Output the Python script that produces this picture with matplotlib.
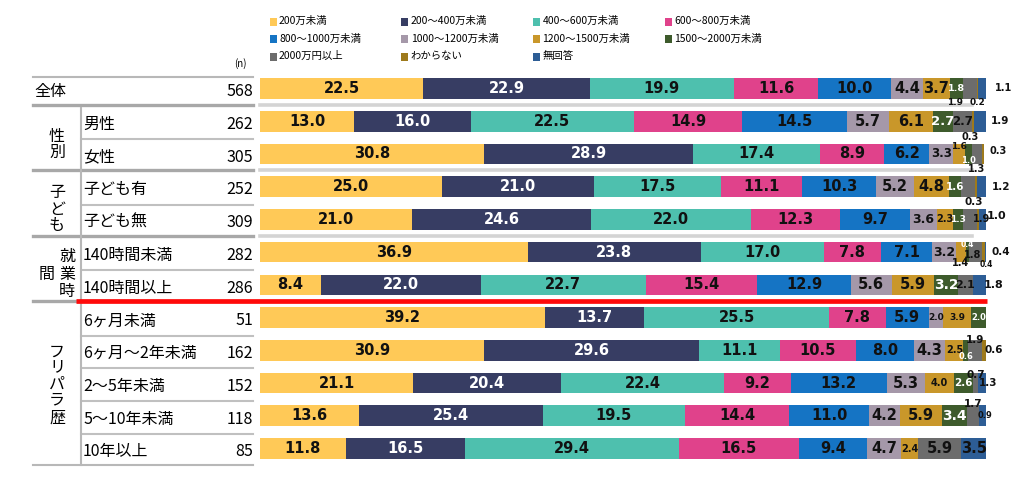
"""
Income distribution (100% stacked bars) by respondent segment.
"""

import numpy as np
import matplotlib.pyplot as plt
from matplotlib.patches import Rectangle
from matplotlib.transforms import Affine2D, blended_transform_factory

# ---- data -------------------------------------------------------------
categories = ["200万未満", "200〜400万未満", "400〜600万未満", "600〜800万未満",
              "800〜1000万未満", "1000〜1200万未満", "1200〜1500万未満",
              "1500〜2000万未満", "2000万円以上", "わからない", "無回答"]
colors = ["#FFC957", "#373D63", "#4EC0AE", "#E0428B", "#1574C4", "#A598A9",
          "#C9972A", "#3E5B2C", "#6C6C6C", "#9E7A1C", "#2D5D95"]

row_labels = ["全体", "男性", "女性", "子ども有", "子ども無", "140時間未満",
              "140時間以上", "6ヶ月未満", "6ヶ月〜2年未満", "2〜5年未満",
              "5〜10年未満", "10年以上"]
row_n = [568, 262, 305, 252, 309, 282, 286, 51, 162, 152, 118, 85]

under200 = [22.5, 13.0, 30.8, 25.0, 21.0, 36.9, 8.4, 39.2, 30.9, 21.1, 13.6, 11.8]
r200_400 = [22.9, 16.0, 28.9, 21.0, 24.6, 23.8, 22.0, 13.7, 29.6, 20.4, 25.4, 16.5]
r400_600 = [19.9, 22.5, 17.4, 17.5, 22.0, 17.0, 22.7, 25.5, 11.1, 22.4, 19.5, 29.4]
r600_800 = [11.6, 14.9, 8.9, 11.1, 12.3, 7.8, 15.4, 7.8, 10.5, 9.2, 14.4, 16.5]
r800_1000 = [10.0, 14.5, 6.2, 10.3, 9.7, 7.1, 12.9, 5.9, 8.0, 13.2, 11.0, 9.4]
r1000_1200 = [4.4, 5.7, 3.3, 5.2, 3.6, 3.2, 5.6, 2.0, 4.3, 5.3, 4.2, 4.7]
r1200_1500 = [3.7, 6.1, 1.6, 4.8, 2.3, 1.4, 5.9, 3.9, 2.5, 4.0, 5.9, 2.4]
r1500_2000 = [1.8, 2.7, 1.0, 1.6, 1.3, 0.4, 3.2, 2.0, 0.6, 2.6, 3.4, 0.0]
over2000 = [1.9, 2.7, 1.3, 2.0, 1.9, 1.8, 2.1, 0.0, 1.9, 0.7, 1.7, 5.9]
unknown = [0.2, 0.3, 0.3, 0.3, 0.3, 0.4, 0.0, 0.0, 0.6, 0.0, 0.0, 0.0]
no_answer = [1.1, 1.9, 0.0, 1.2, 1.0, 0.4, 1.8, 0.0, 0.0, 1.3, 0.9, 3.5]

series = [under200, r200_400, r400_600, r600_800, r800_1000, r1000_1200,
          r1200_1500, r1500_2000, over2000, unknown, no_answer]

# ---- label placement for the small segments ---------------------------
# (row, segment): (x shift in %, y shift in rows, font size)
tweaks = {
    (0, 7): (0, 0, 6.8), (0, 8): (-2.0, 0.42, 6.5), (0, 9): (0, 0.42, 6.5),
    (0, 10): (3.0, 0, 7),
    (1, 7): (0, 0, 9.5), (1, 8): (0, 0, 8.5), (1, 9): (-0.4, 0.47, 7),
    (1, 10): (2.6, 0, 7.5),
    (2, 5): (0, 0, 8.5), (2, 6): (0, -0.22, 6.5), (2, 7): (0, 0.2, 6),
    (2, 8): (0, 0.46, 7), (2, 9): (2.1, -0.1, 7),
    (3, 7): (0, 0, 7.5), (3, 9): (-0.3, 0.46, 7.5), (3, 10): (2.7, 0, 7.5),
    (4, 5): (0, 0, 9), (4, 6): (0, 0, 7), (4, 7): (0, 0, 6.5),
    (4, 8): (1.7, 0, 7), (4, 10): (2.0, -0.1, 8),
    (5, 5): (0, 0, 9), (5, 6): (0, 0.34, 7), (5, 7): (0, -0.22, 5.5),
    (5, 8): (-0.3, 0.08, 7), (5, 9): (0.5, 0.39, 5.5), (5, 10): (2.1, 0, 7.5),
    (6, 7): (0, 0, 10), (6, 8): (0, 0, 8), (6, 10): (2.0, 0, 8),
    (7, 5): (0, 0, 6.5), (7, 6): (0, 0, 6.5), (7, 7): (0, 0, 6),
    (8, 6): (0, 0, 7), (8, 7): (0, 0.18, 6), (8, 8): (0, -0.32, 7.5),
    (8, 9): (1.4, 0, 7.5),
    (9, 6): (0, 0, 7), (9, 7): (0, 0, 7.5), (9, 8): (0, -0.25, 7.5),
    (9, 10): (0.7, 0, 7.5),
    (10, 7): (0, 0, 10), (10, 8): (0, -0.35, 7.5), (10, 10): (0.3, 0, 6),
    (11, 6): (0, 0, 7),
}
hidden = {(3, 8), (4, 9)}
white_text = {1, 7}

JP = ["Noto Sans CJK JP", "DejaVu Sans"]
W, H = 1024, 490

fig = plt.figure(figsize=(W / 100, H / 100), dpi=100)
ax = fig.add_axes([260 / W, 1 - 464.9 / H, 726 / W, 392.8 / H])
ax.set_xlim(0, 100)
ax.set_ylim(11.5, -0.5)
ax.axis("off")

# pixel x with data y, and plain pixels measured from the top
px = Affine2D().scale(1 / W, 1 / H) + fig.transFigure
rowx = blended_transform_factory(px, ax.transData)
pix = Affine2D().scale(1 / W, -1 / H).translate(0, 1) + fig.transFigure

rows = np.arange(len(row_labels))
left = np.zeros(len(rows))
for k, vals in enumerate(series):
    vals = np.array(vals)
    ax.barh(rows, vals, left=left, height=0.63, color=colors[k], zorder=2)
    for i, v in enumerate(vals):
        if v <= 0 or (i, k) in hidden:
            continue
        dx, dy, size = tweaks.get((i, k), (0, 0, 10.5))
        ax.text(left[i] + v / 2 + dx, i + dy, f"{v:.1f}", ha="center",
                va="center", fontsize=size, fontweight="bold",
                family="DejaVu Sans",
                color="white" if k in white_text else "#111111", zorder=4)
    left += vals

# ---- left-hand table ----------------------------------------------------
for i, (lab, n) in enumerate(zip(row_labels, row_n)):
    x = 34 if i == 0 else 83
    ax.text(x, i + 0.1, lab, transform=rowx, ha="left", va="center",
            fontsize=11.5, family=JP)
    ax.text(253, i + 0.1, str(n), transform=rowx, ha="right", va="center",
            fontsize=11.5, family=JP)

ax.text(240, 64, "(n)", transform=pix, ha="center", va="center",
        fontsize=7, family=JP)

# separators
ax.plot([33, 253], [-0.35, -0.35], transform=rowx, color="#B8B8B8", lw=1.5,
        clip_on=False)
for y in [0.5, 2.5, 4.5]:
    ax.plot([33, 253], [y, y], transform=rowx, color="#A8A8A8", lw=2.4,
            clip_on=False)
    ax.plot([260, 972], [y, y], transform=rowx, color="#D4D4D4", lw=2.6,
            clip_on=False, zorder=1)
for y in [1.55, 3.55, 5.55, 7.55, 8.55, 9.55, 10.55]:
    ax.plot([81, 253], [y, y], transform=rowx, color="#C0C0C0", lw=1.5,
            clip_on=False)
ax.plot([33, 253], [11.5, 11.5], transform=rowx, color="#B8B8B8", lw=1.5,
        clip_on=False)
ax.plot([81, 81], [0.6, 11.5], transform=rowx, color="#B8B8B8", lw=1.5,
        clip_on=False)
ax.plot([33, 76], [6.5, 6.5], transform=rowx, color="#A8A8A8", lw=2.4,
        clip_on=False)
ax.plot([76, 987], [6.5, 6.5], transform=rowx, color="#FF0A0A", lw=3.4,
        clip_on=False, solid_capstyle="butt", zorder=5)

# vertical group captions
group_chars = [("性", 57, 136), ("別", 57, 152),
               ("子", 57, 192), ("ど", 57, 209), ("も", 57, 225),
               ("就", 67, 256), ("業", 67, 274), ("時", 67, 291),
               ("間", 47, 274),
               ("フ", 57, 352), ("リ", 57, 367), ("パ", 57, 384),
               ("ラ", 57, 400), ("歴", 57, 418)]
for ch, x, y in group_chars:
    ax.text(x, y, ch, transform=pix, ha="center", va="center",
            fontsize=11.5, family=JP)

# ---- legend (row-wise, 4 columns) --------------------------------------
for i, (name, col) in enumerate(zip(categories, colors)):
    lx = 269.5 + (i % 4) * 131.7
    ly = 22 + (i // 4) * 17.5
    ax.add_patch(Rectangle((lx, ly - 4), 7, 8, transform=pix,
                           facecolor=col, edgecolor="none", clip_on=False))
    ax.text(lx + 9.5, ly - 1, name, transform=pix, ha="left", va="center",
            fontsize=7.5, family=JP)

fig.savefig("out.png", dpi=100)
